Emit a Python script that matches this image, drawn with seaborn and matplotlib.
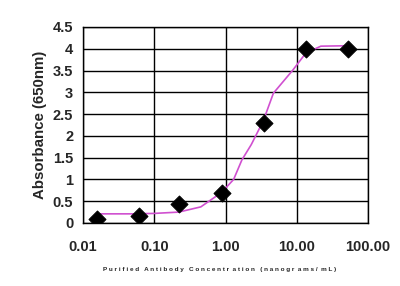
import matplotlib
matplotlib.use("Agg")
import matplotlib.pyplot as plt
import seaborn as sns
import pandas as pd
import numpy as np
from matplotlib.ticker import LogLocator, FixedLocator, FixedFormatter, NullFormatter

# measured points
conc = [0.0158, 0.061, 0.225, 0.88, 3.43, 13.4, 52.0]
absorb = [0.09, 0.16, 0.44, 0.69, 2.29, 4.0, 4.0]

# fitted curve
curve_x = [0.0158, 0.05, 0.1, 0.22, 0.45, 0.88, 1.3, 1.7, 2.3, 3.4, 4.7, 8.8, 13.4, 21.8, 52.0]
curve_y = [0.21, 0.21, 0.22, 0.25, 0.37, 0.70, 1.0, 1.45, 1.8, 2.35, 2.98, 3.51, 3.9, 4.06, 4.07]

xticks = [0.01, 0.1, 1, 10, 100]
xticklabels = ["0.01", "0.10", "1.00", "10.00", "100.00"]
yticks = [0, 0.5, 1, 1.5, 2, 2.5, 3, 3.5, 4, 4.5]
yticklabels = ["0", "0.5", "1", "1.5", "2", "2.5", "3", "3.5", "4", "4.5"]

sns.set_style("white")
plt.rcParams['font.family'] = ['Liberation Sans', 'DejaVu Sans']

fig = plt.figure(figsize=(4.0, 2.86), dpi=100)
ax = fig.add_axes([0.2075, 0.2203, 0.7125, 0.6853])

df_curve = pd.DataFrame({"x": curve_x, "y": curve_y})
df_pts = pd.DataFrame({"x": conc, "y": absorb})

sns.lineplot(data=df_curve, x="x", y="y", ax=ax, color="#d050d0", lw=1.2, zorder=3)
sns.scatterplot(data=df_pts, x="x", y="y", ax=ax, marker="D", s=75, color="black",
                edgecolor="black", zorder=4)

ax.set_xscale("log")
ax.set_xlim(0.01, 100)
ax.set_ylim(0, 4.5)

ax.xaxis.set_major_locator(FixedLocator(xticks))
ax.xaxis.set_major_formatter(FixedFormatter(xticklabels))
ax.xaxis.set_minor_locator(LogLocator(base=10, subs=np.arange(2, 10)))
ax.xaxis.set_minor_formatter(NullFormatter())
ax.set_yticks(yticks)
ax.set_yticklabels(yticklabels)

ax.grid(True, which="major", color="black", lw=1.0)
ax.set_axisbelow(True)
for s in ax.spines.values():
    s.set_color("black")
    s.set_linewidth(1.0)

ax.tick_params(axis="both", which="major", direction="out", length=4, width=1, color="black",
               labelsize=10.5, pad=3)
ax.tick_params(axis="x", which="minor", direction="out", length=3, width=1, color="black")
ax.tick_params(axis="x", which="major", pad=8)
for lab in ax.get_xticklabels() + ax.get_yticklabels():
    lab.set_fontweight("bold")

ax.set_ylabel("Absorbance (650nm)", fontsize=10.8, fontweight="bold", labelpad=4)
ax.set_xlabel("P u r i f i e d   A n t i b o d y   C o n c e n t r  a t i o n   ( n a n o g r  a m s /  m L )",
              fontsize=4.6, fontweight="bold")
ax.xaxis.set_label_coords(0.478, -0.225)

fig.savefig("out.png", dpi=100)
